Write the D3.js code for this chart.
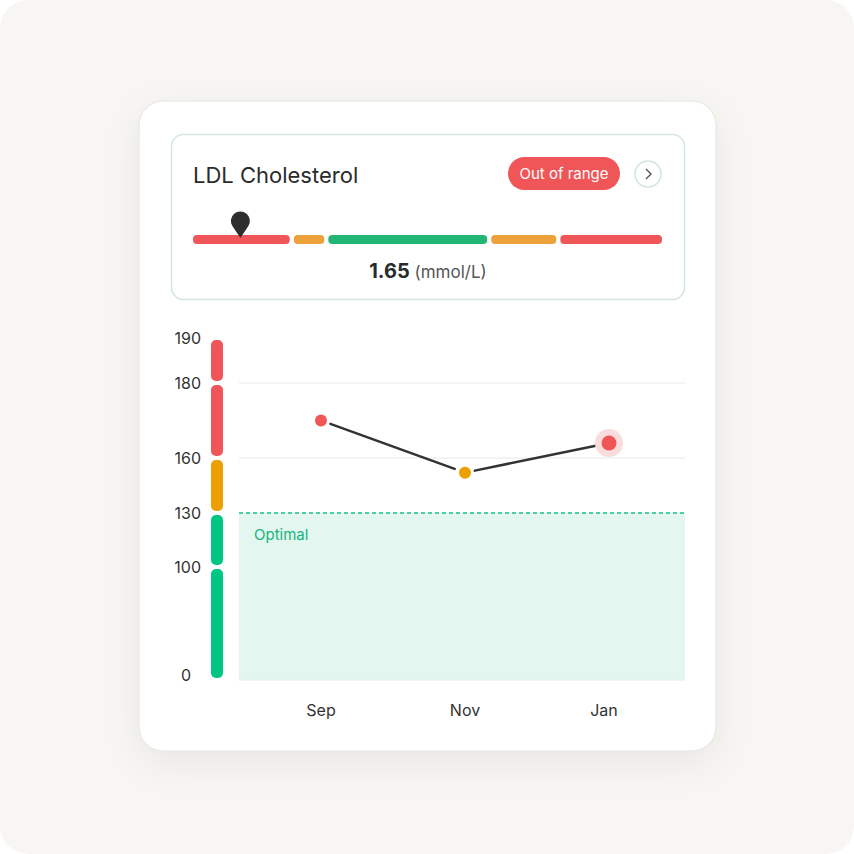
<!DOCTYPE html>
<html><head><meta charset="utf-8">
<script src="https://cdn.jsdelivr.net/npm/d3@7"></script>
<style>
body{margin:0;background:#fff;}
svg text{font-family:Inter,"Noto Sans",sans-serif;}
</style></head><body>
<svg id="chart" width="854" height="854"></svg>
<script>
// data
const months = ["Sep", "Nov", "Jan"];
const values = [170, 152, 164];
const pointStatus = ["high", "border", "high"];
const yTicks = [0, 100, 130, 160, 180, 190];
const bands = [[0, 100, "good"], [100, 130, "good"], [130, 160, "border"], [160, 180, "high"], [180, 190, "high"]];
const rangeSegments = [[0, 1, "high"], [1, 1.35, "border"], [1.35, 3, "good"], [3, 3.7, "border"], [3.7, 4.75, "high"]];
const currentValue = 1.65;
const markerPos = 0.49;

const colors = {high: "#f05558", border: "#eba23a", good: "#22b573"};
const bandColors = {high: "#f05558", border: "#ec9f00", good: "#00c683"};

const svg = d3.select("#chart");
svg.append("rect").attr("x", 0).attr("y", 0).attr("width", 854).attr("height", 854)
  .attr("rx", 28).attr("fill", "#f7f6f2");

const defs = svg.append("defs");
const f = defs.append("filter").attr("id", "sh").attr("x", "-20%").attr("y", "-20%").attr("width", "140%").attr("height", "140%");
f.append("feDropShadow").attr("dx", 0).attr("dy", 12).attr("stdDeviation", 18).attr("flood-color", "#000").attr("flood-opacity", 0.06);

// card
svg.append("rect").attr("x", 139).attr("y", 101).attr("width", 577).attr("height", 650).attr("rx", 24)
  .attr("fill", "#fff").attr("stroke", "#e2e2de").attr("filter", "url(#sh)");

// header box
svg.append("rect").attr("x", 171.5).attr("y", 134.5).attr("width", 513).attr("height", 165).attr("rx", 12)
  .attr("fill", "#fff").attr("stroke", "#d3e6de").attr("stroke-width", 1.5);
svg.append("text").attr("x", 193).attr("y", 183).attr("font-size", 22).attr("font-weight", 400)
  .attr("fill", "#2b2b2b").text("LDL Cholesterol");
svg.append("rect").attr("x", 508).attr("y", 157).attr("width", 112).attr("height", 33).attr("rx", 16.5).attr("fill", "#f05558");
svg.append("text").attr("x", 564).attr("y", 179).attr("text-anchor", "middle").attr("font-size", 15)
  .attr("fill", "#fff").text("Out of range");
svg.append("circle").attr("cx", 648).attr("cy", 174).attr("r", 13).attr("fill", "#fff").attr("stroke", "#cfe5dc").attr("stroke-width", 1.5);
svg.append("path").attr("d", "M646,169 L651,174 L646,179").attr("fill", "none").attr("stroke", "#555").attr("stroke-width", 1.4);

// range bar
const rx = d3.scaleLinear().domain([0, 4.75]).range([193, 662]);
svg.selectAll(".seg").data(rangeSegments).join("rect")
  .attr("x", (d, i) => rx(d[0]) + (i ? 2 : 0))
  .attr("width", (d, i) => rx(d[1]) - rx(d[0]) - (i ? 2 : 0) - (i < rangeSegments.length - 1 ? 2 : 0))
  .attr("y", 235).attr("height", 9).attr("rx", 4).attr("fill", d => colors[d[2]]);
const mx = rx(markerPos) - 1;
svg.append("path").attr("d", `M${mx},238 L${mx - 8},226 A9.5,9.5 0 1 1 ${mx + 8},226 Z`).attr("fill", "#2e2e2e");
const vt = svg.append("text").attr("x", 428).attr("y", 278).attr("text-anchor", "middle").attr("fill", "#2b2b2b");
vt.append("tspan").attr("font-size", 20).attr("font-weight", 700).text(currentValue.toFixed(2));
vt.append("tspan").attr("font-size", 17).attr("fill", "#555").text(" (mmol/L)");

// chart
const y = d3.scaleLinear().domain(yTicks).range([680, 567, 513, 458, 383, 338]);
const x = d3.scalePoint().domain(months).range([321, 609]);
const left = 239, right = 685;

svg.append("rect").attr("x", left).attr("y", y(130)).attr("width", right - left).attr("height", y(0) - y(130)).attr("fill", "#e3f6ef");
svg.append("line").attr("x1", left).attr("x2", right).attr("y1", y(0)).attr("y2", y(0)).attr("stroke", "#e8ecea");
[160, 180].forEach(v => svg.append("line").attr("x1", left).attr("x2", right).attr("y1", y(v)).attr("y2", y(v)).attr("stroke", "#e6e9e8"));
svg.append("line").attr("x1", left).attr("x2", right).attr("y1", y(130)).attr("y2", y(130))
  .attr("stroke", "#15c17e").attr("stroke-width", 1.5).attr("stroke-dasharray", "4,3");
svg.append("text").attr("x", 254).attr("y", 540).attr("font-size", 15).attr("fill", "#17b57a").text("Optimal");

svg.selectAll(".band").data(bands).join("rect")
  .attr("x", 211).attr("width", 12)
  .attr("y", d => y(d[1]) + 2).attr("height", d => y(d[0]) - y(d[1]) - 4)
  .attr("rx", 5).attr("fill", d => bandColors[d[2]]);

svg.selectAll(".yt").data(yTicks).join("text")
  .attr("x", d => d === 0 ? 191 : 201).attr("y", d => (d === 0 ? y(d) - 5 : y(d)) + 6).attr("text-anchor", "end")
  .attr("font-size", 16).attr("fill", "#333").text(d => d);
svg.selectAll(".xt").data(months).join("text")
  .attr("x", (d, i) => x(d) - (i === months.length - 1 ? 5 : 0)).attr("y", 716).attr("text-anchor", "middle")
  .attr("font-size", 16).attr("fill", "#333").text(d => d);

// line segments with gaps near points
const pts = months.map((m, i) => [x(m), y(values[i])]);
for (let i = 0; i < pts.length - 1; i++) {
  const [x1, y1] = pts[i], [x2, y2] = pts[i + 1];
  const L = Math.hypot(x2 - x1, y2 - y1), ux = (x2 - x1) / L, uy = (y2 - y1) / L;
  svg.append("line").attr("x1", x1 + ux * 10).attr("y1", y1 + uy * 10)
    .attr("x2", x2 - ux * 11).attr("y2", y2 - uy * 11)
    .attr("stroke", "#333").attr("stroke-width", 2.5).attr("stroke-linecap", "round");
}
const last = pts.length - 1;
svg.append("circle").attr("cx", pts[last][0]).attr("cy", pts[last][1]).attr("r", 14).attr("fill", "#fbdcdc");
svg.selectAll(".pt").data(pts).join("circle")
  .attr("cx", d => d[0]).attr("cy", d => d[1])
  .attr("r", (d, i) => i === last ? 7.5 : 6)
  .attr("fill", (d, i) => bandColors[pointStatus[i]]);
</script>
</body></html>
